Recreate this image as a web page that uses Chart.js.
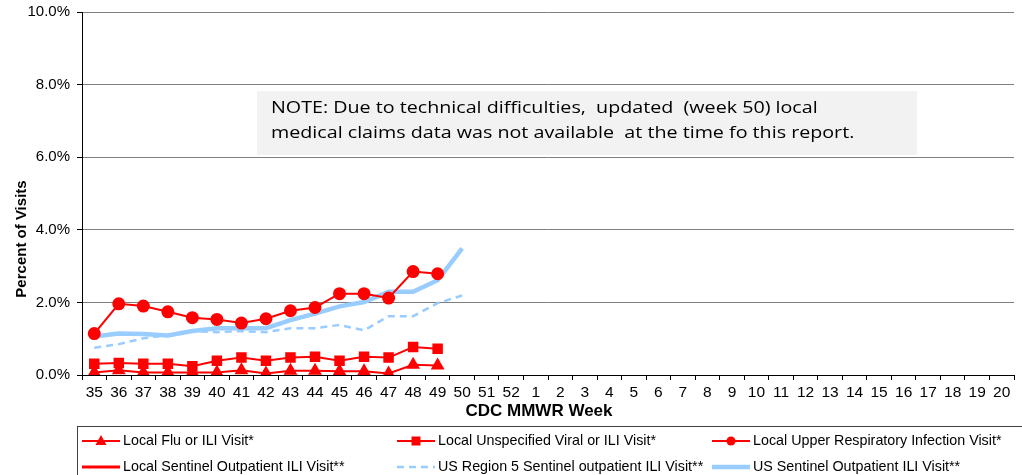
<!DOCTYPE html>
<html>
<head>
<meta charset="utf-8">
<script src="https://cdn.jsdelivr.net/npm/chart.js@4/dist/chart.umd.min.js"></script>
<style>
  html, body { margin: 0; padding: 0; background: #fff; }
  #wrap { width: 1022px; height: 475px; position: relative; }
</style>
</head>
<body>
<div id="wrap"><canvas id="ili-chart"></canvas></div>
<script>
// CDC MMWR weeks shown on the horizontal axis
var weeks = ['35', '36', '37', '38', '39', '40', '41', '42', '43', '44', '45', '46', '47', '48', '49', '50', '51', '52',
  '1', '2', '3', '4', '5', '6', '7', '8', '9', '10', '11', '12', '13', '14', '15', '16', '17', '18', '19', '20'];

// percent of visits, weeks 35 -> 49/50
var localFluIli = [0.07, 0.13, 0.07, 0.07, 0.07, 0.07, 0.13, 0.04, 0.12, 0.12, 0.10, 0.10, 0.04, 0.28, 0.26];
var localUnspecViral = [0.31, 0.33, 0.31, 0.31, 0.24, 0.39, 0.48, 0.39, 0.48, 0.50, 0.39, 0.50, 0.48, 0.77, 0.72];
var localUpperResp = [1.14, 1.96, 1.90, 1.74, 1.58, 1.53, 1.43, 1.55, 1.77, 1.86, 2.24, 2.24, 2.12, 2.85, 2.79];
var localSentinel = []; // no local sentinel data this season yet
var usRegion5 = [0.75, 0.85, 1.01, 1.10, 1.21, 1.18, 1.21, 1.18, 1.29, 1.29, 1.38, 1.23, 1.62, 1.62, 1.98, 2.19];
var usSentinel = [1.06, 1.14, 1.13, 1.09, 1.21, 1.29, 1.29, 1.29, 1.51, 1.69, 1.89, 2.01, 2.29, 2.29, 2.61, 3.49];

var yTicks = [0, 2, 4, 6, 8, 10];

var xTitle = 'CDC MMWR Week';
var yTitle = 'Percent of Visits';
var noteLines = [
  'NOTE: Due to technical difficulties,  updated  (week 50) local',
  'medical claims data was not available  at the time fo this report.'
];

var RED = '#ff0000';
var LIGHT_BLUE = '#99ccff';
var TICK_FONT = '"Liberation Sans", Arial, sans-serif';

// Note box and the axis titles, drawn on the canvas
var notePlugin = {
  id: 'noteBox',
  afterDraw: function (chart) {
    var ctx = chart.ctx;
    ctx.save();
    ctx.fillStyle = '#f2f2f2';
    ctx.fillRect(257, 91, 660, 64);
    ctx.fillStyle = '#000';
    ctx.font = '16px "Open Sans", "Noto Sans", sans-serif';
    ctx.textBaseline = 'middle';
    ctx.textAlign = 'left';
    ctx.translate(271, 0);
    ctx.scale(1.23, 1);
    ctx.fillText(noteLines[0], 0, 108);
    ctx.fillText(noteLines[1], 0, 133);
    ctx.restore();

    ctx.save();
    ctx.fillStyle = '#000';
    ctx.font = 'bold 17px ' + TICK_FONT;
    ctx.textAlign = 'center';
    ctx.textBaseline = 'middle';
    ctx.fillText(xTitle, 539, 411);
    ctx.translate(22, 239);
    ctx.rotate(-Math.PI / 2);
    ctx.font = 'bold 15px ' + TICK_FONT;
    ctx.fillText(yTitle, 0, 0);
    ctx.restore();
  }
};

function drawMarker(ctx, style, x, y) {
  ctx.beginPath();
  if (style === 'circle') {
    ctx.arc(x, y, 4.5, 0, Math.PI * 2);
  } else if (style === 'rect') {
    ctx.rect(x - 4.5, y - 4.5, 9, 9);
  } else if (style === 'triangle') {
    ctx.moveTo(x, y - 6);
    ctx.lineTo(x + 5.5, y + 4);
    ctx.lineTo(x - 5.5, y + 4);
    ctx.closePath();
  } else {
    return;
  }
  ctx.fill();
}

// 3 column legend in a box under the axis
var legendPlugin = {
  id: 'gridLegend',
  afterDraw: function (chart) {
    var ctx = chart.ctx;
    var cols = [82, 397, 712];
    var rows = [441, 467];
    ctx.save();
    ctx.strokeStyle = '#404040';
    ctx.lineWidth = 1;
    ctx.strokeRect(77.5, 426.5, 960, 60);
    ctx.font = '14.3px ' + TICK_FONT;
    ctx.textBaseline = 'middle';
    chart.data.datasets.forEach(function (ds, i) {
      var x = cols[i % 3];
      var y = rows[Math.floor(i / 3)];
      ctx.strokeStyle = ds.borderColor;
      ctx.lineWidth = ds.borderWidth;
      ctx.setLineDash(ds.borderDash || []);
      ctx.beginPath();
      ctx.moveTo(x, y);
      ctx.lineTo(x + 38, y);
      ctx.stroke();
      ctx.setLineDash([]);
      ctx.fillStyle = ds.borderColor;
      if (ds.pointRadius > 0) drawMarker(ctx, ds.pointStyle, x + 19, y);
      ctx.fillStyle = '#000';
      ctx.fillText(ds.label, x + 41, y);
    });
    ctx.restore();
  }
};

function series(label, data, opts) {
  var ds = {
    label: label,
    data: data,
    borderColor: opts.color,
    backgroundColor: opts.color,
    borderWidth: opts.width,
    pointStyle: opts.point || 'circle',
    pointRadius: opts.radius || 0,
    pointHoverRadius: opts.radius || 0,
    tension: 0,
    fill: false,
    order: opts.order
  };
  if (opts.dash) ds.borderDash = opts.dash;
  return ds;
}

var ctxChart = document.getElementById('ili-chart').getContext('2d');

var myChart = new Chart(ctxChart, {
  type: 'line',
  data: {
    labels: weeks,
    datasets: [
      series('Local Flu or ILI Visit*', localFluIli, { color: RED, width: 2, point: 'triangle', radius: 6, order: 1 }),
      series('Local Unspecified Viral or ILI Visit*', localUnspecViral, { color: RED, width: 2, point: 'rect', radius: 6, order: 1 }),
      series('Local Upper Respiratory Infection Visit*', localUpperResp, { color: RED, width: 2, point: 'circle', radius: 5.5, order: 1 }),
      series('Local Sentinel Outpatient ILI Visit**', localSentinel, { color: RED, width: 3, order: 1 }),
      series('US Region 5 Sentinel outpatient ILI Visit**', usRegion5, { color: LIGHT_BLUE, width: 2.5, dash: [7, 5], order: 3 }),
      series('US Sentinel Outpatient ILI Visit**', usSentinel, { color: LIGHT_BLUE, width: 4.5, order: 2 })
    ]
  },
  options: {
    responsive: true,
    maintainAspectRatio: false,
    animation: false,
    layout: { padding: { top: 12, right: 0, bottom: 52, left: 0 } },
    plugins: {
      legend: { display: false },
      tooltip: { enabled: false }
    },
    scales: {
      x: {
        type: 'category',
        offset: true,
        grid: {
          offset: true,
          drawOnChartArea: false,
          drawTicks: true,
          tickLength: 5,
          color: '#000'
        },
        border: { color: '#000', width: 1 },
        ticks: {
          autoSkip: false,
          maxRotation: 0,
          padding: 3,
          color: '#000',
          font: { family: TICK_FONT, size: 15.5 }
        },
        afterFit: function (scale) { scale.height = 48; }
      },
      y: {
        min: 0,
        max: 10,
        afterBuildTicks: function (scale) {
          scale.ticks = yTicks.map(function (v) { return { value: v }; });
        },
        grid: {
          color: '#7f7f7f',
          lineWidth: 1,
          tickLength: 5,
          tickColor: '#000'
        },
        border: { color: '#000', width: 1 },
        ticks: {
          padding: 7,
          color: '#000',
          font: { family: TICK_FONT, size: 15 },
          callback: function (v) { return v.toFixed(1) + '%'; }
        },
        afterFit: function (scale) {
          scale.width = 82;
          // top label may stick out above the plot, like the original
          scale.paddingTop = 0;
          scale.paddingBottom = 0;
        }
      }
    }
  },
  plugins: [notePlugin, legendPlugin]
});
</script>
</body>
</html>
